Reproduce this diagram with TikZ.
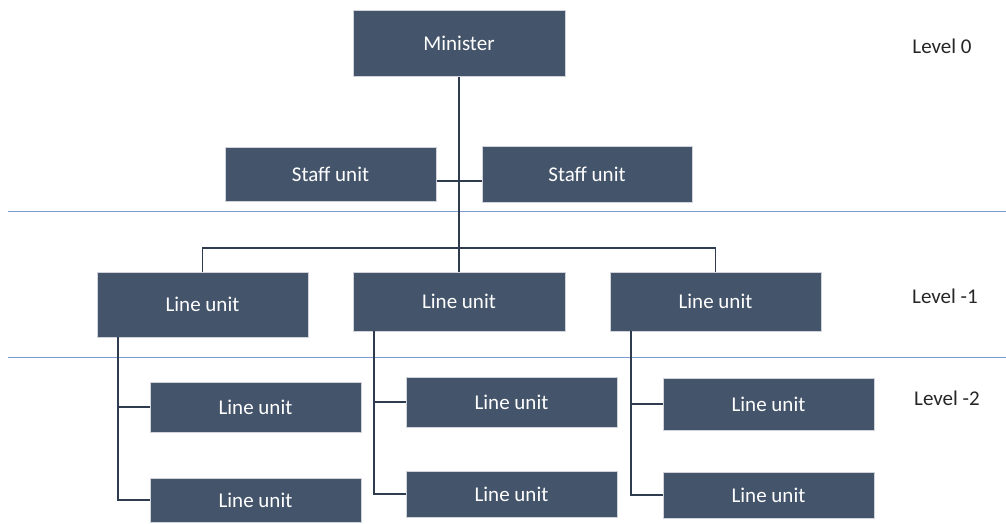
\documentclass[tikz,border=0pt]{standalone}
\usepackage{fontspec}
\setmainfont{Carlito}
\definecolor{boxfill}{HTML}{44546A}
\definecolor{boxedge}{HTML}{D0D4DA}
\definecolor{sepline}{HTML}{7A9AD0}
\definecolor{conn}{HTML}{2F3B4E}
\begin{document}
\begin{tikzpicture}[x=1pt,y=-1pt,
  unit/.style={draw=boxedge,line width=1pt,fill=boxfill,text=white,inner sep=0pt,
    font=\fontsize{21}{24}\selectfont},
  lvl/.style={text=black!85,font=\fontsize{21}{24}\selectfont,inner sep=0pt},
  link/.style={draw=conn,line width=1.3pt}]
\useasboundingbox (0,0) rectangle (1006,523);
% separators
\draw[sepline,line width=1pt] (8,211) -- (1006,211);
\draw[sepline,line width=1pt] (8,357) -- (1006,357);
% nodes
\node[unit,minimum width=212pt,minimum height=66pt] (min) at (459,43) {Minister};
\node[unit,minimum width=211pt,minimum height=54pt] (s1) at (330.5,174) {Staff unit};
\node[unit,minimum width=210pt,minimum height=56pt] (s2) at (587,174) {Staff unit};
\node[unit,minimum width=211pt,minimum height=65pt] (a) at (202.5,304.5) {Line unit};
\node[unit,minimum width=212pt,minimum height=59pt] (b) at (459,301.5) {Line unit};
\node[unit,minimum width=211pt,minimum height=59pt] (c) at (715.5,301.5) {Line unit};
\node[unit,minimum width=211pt,minimum height=50pt] (a1) at (255.5,407) {Line unit};
\node[unit,minimum width=211pt,minimum height=44pt] (a2) at (255.5,500) {Line unit};
\node[unit,minimum width=211pt,minimum height=50pt] (b1) at (511.5,402) {Line unit};
\node[unit,minimum width=211pt,minimum height=46pt] (b2) at (511.5,494) {Line unit};
\node[unit,minimum width=211pt,minimum height=52pt] (c1) at (768.5,404) {Line unit};
\node[unit,minimum width=211pt,minimum height=46pt] (c2) at (768.5,495) {Line unit};
\node[lvl] (l0) at (942,46) {Level 0};
\node[lvl] (l1) at (945,296) {Level -1};
\node[lvl] (l2) at (947,398) {Level -2};
% connectors
\coordinate (j) at (459,248);
\draw[link] (min.south) -- (b.north);
\draw[link] (s1.east |- 0,181) -- (s2.west |- 0,181);
\draw[link] (a.north) -- (a.north |- j) -- (c.north |- j) -- (c.north);
\draw[link] (118,337) -- (118,500) -- (a2.west);
\draw[link] (118,407) -- (a1.west);
\draw[link] (374,331) -- (374,494) -- (b2.west);
\draw[link] (374,402) -- (b1.west);
\draw[link] (631,331) -- (631,495) -- (c2.west);
\draw[link] (631,404) -- (c1.west);
\end{tikzpicture}
\end{document}
